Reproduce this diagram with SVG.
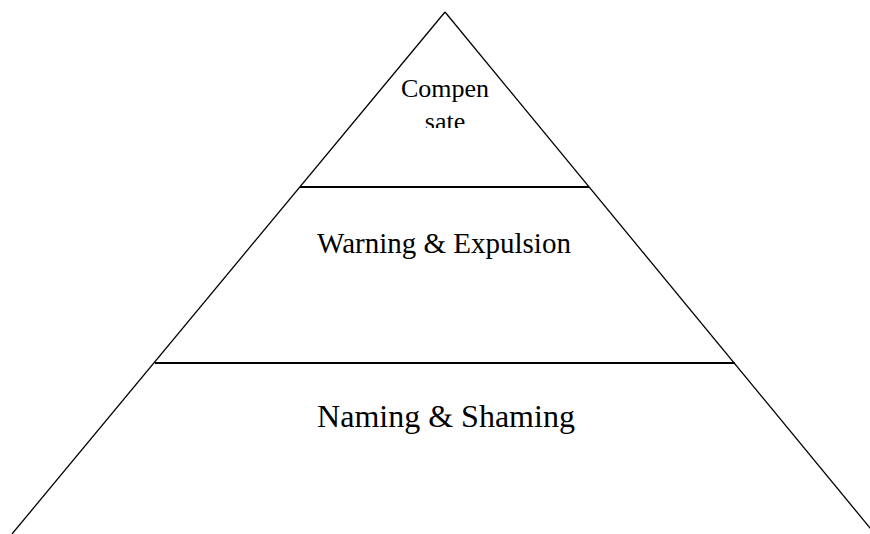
<svg xmlns="http://www.w3.org/2000/svg" width="870" height="534" viewBox="0 0 870 534">
<style>
.edge{stroke:#000;stroke-width:1.3;fill:none}
.div{stroke:#000;stroke-width:1.8;fill:none}
.t{font-family:"Liberation Serif","Times New Roman",serif;fill:#000;text-anchor:middle}
</style>
<defs>
<clipPath id="topclip"><rect x="300" y="0" width="290" height="128"/></clipPath>
</defs>
<rect width="870" height="534" fill="#fff"/>
<g id="connectors">
<line class="edge" x1="445" y1="12" x2="12" y2="534"/>
<line class="edge" x1="445" y1="12" x2="875" y2="534"/>
</g>
<g id="tier-top">
<g clip-path="url(#topclip)">
<text class="t" x="445" y="97" font-size="26">Compen</text>
<text class="t" x="445" y="130" font-size="26">sate</text>
</g>
</g>
<g id="tier-middle">
<line class="div" x1="300" y1="187" x2="589" y2="187"/>
<text class="t" x="444" y="253" font-size="29">Warning &amp; Expulsion</text>
</g>
<g id="tier-bottom">
<line class="div" x1="155" y1="363" x2="735" y2="363"/>
<text class="t" x="446" y="427" font-size="32">Naming &amp; Shaming</text>
</g>
</svg>
